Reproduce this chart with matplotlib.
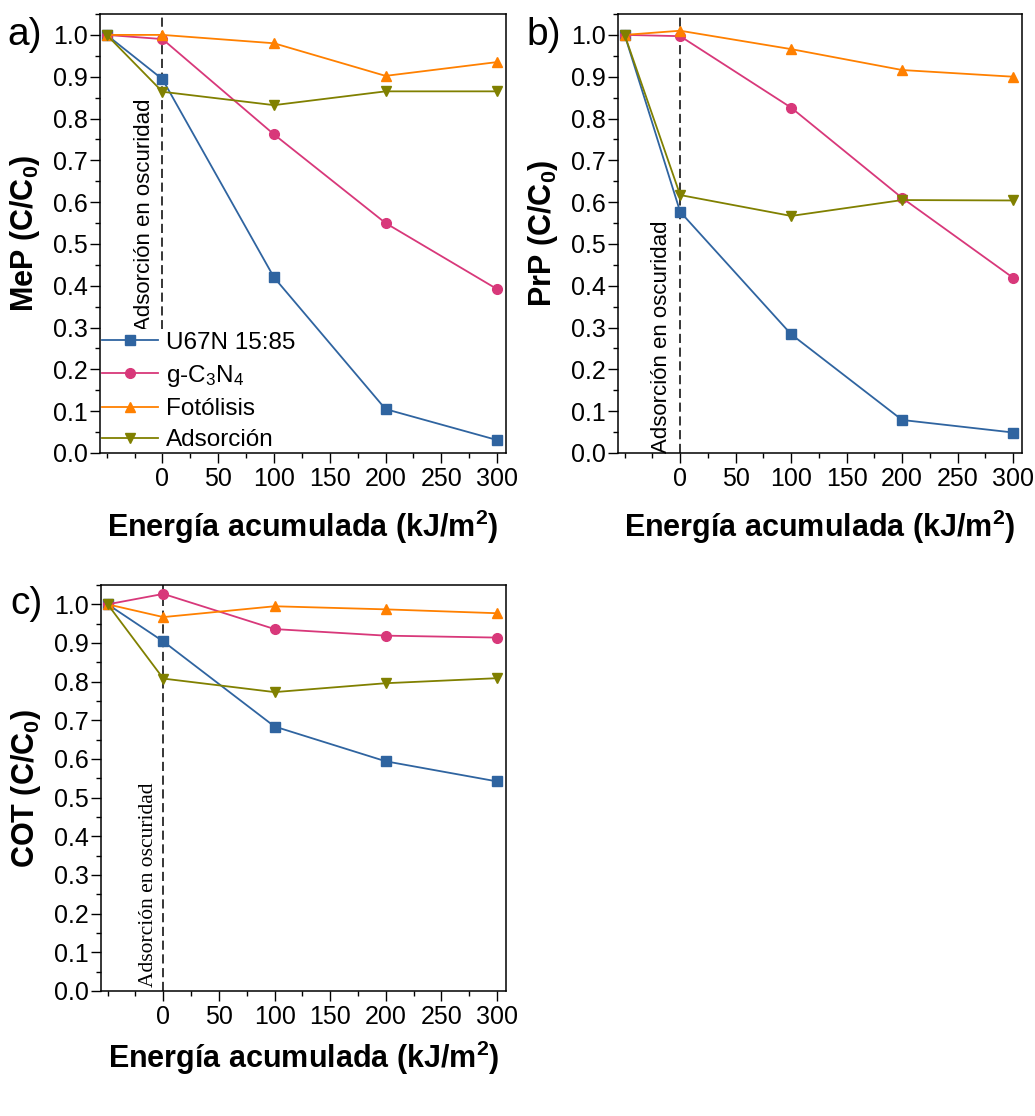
import matplotlib
matplotlib.use("Agg")
import matplotlib.pyplot as plt
from matplotlib.ticker import MultipleLocator, FixedLocator

plt.rcParams['font.family'] = ['Liberation Sans', 'DejaVu Sans']
plt.rcParams['mathtext.fontset'] = 'custom'
plt.rcParams['mathtext.rm'] = 'Liberation Sans'
plt.rcParams['mathtext.it'] = 'Liberation Sans:italic'
plt.rcParams['mathtext.bf'] = 'Liberation Sans:bold'

# energy axis (first point = start of dark adsorption)
energy = [-50, 0, 100, 200, 300]

series_names = ['U67N 15:85', 'g-C$_3$N$_4$', 'Fotólisis', 'Adsorción']
colors = ['#2f64a0', '#d8387a', '#ff8000', '#808000']
markers = ['s', 'o', '^', 'v']

# a) MeP
mep_u67n = [1.0, 0.894, 0.420, 0.105, 0.031]
mep_gcn = [1.0, 0.990, 0.762, 0.550, 0.392]
mep_foto = [1.0, 1.000, 0.980, 0.902, 0.935]
mep_ads = [1.0, 0.864, 0.832, 0.865, 0.865]

# b) PrP
prp_u67n = [1.0, 0.577, 0.284, 0.079, 0.049]
prp_gcn = [1.0, 0.997, 0.826, 0.610, 0.419]
prp_foto = [1.0, 1.010, 0.966, 0.916, 0.900]
prp_ads = [1.0, 0.617, 0.567, 0.605, 0.604]

# c) COT
cot_u67n = [1.0, 0.904, 0.684, 0.594, 0.542]
cot_gcn = [1.0, 1.027, 0.936, 0.919, 0.914]
cot_foto = [1.0, 0.967, 0.995, 0.987, 0.977]
cot_ads = [1.0, 0.808, 0.773, 0.796, 0.809]

panels = [
    ('a)', 'MeP (C/C$_\\mathbf{0}$)', [mep_u67n, mep_gcn, mep_foto, mep_ads]),
    ('b)', 'PrP (C/C$_\\mathbf{0}$)', [prp_u67n, prp_gcn, prp_foto, prp_ads]),
    ('c)', 'COT (C/C$_\\mathbf{0}$)', [cot_u67n, cot_gcn, cot_foto, cot_ads]),
]

fig = plt.figure(figsize=(10.35, 11.16), dpi=100)
W, H = 1035, 1116
boxes = [(100, 14, 506, 453), (618, 14, 1022, 453), (101, 585, 506, 991)]
text_y = [0.292, 0.0, 0.01]
xlabel_pad = [12, 12, 7]

for i, ((lab, ylab, data), (x0, y0, x1, y1)) in enumerate(zip(panels, boxes)):
    ax = fig.add_axes([x0 / W, 1 - y1 / H, (x1 - x0) / W, (y1 - y0) / H])
    for vals, name, c, m in zip(data, series_names, colors, markers):
        ax.plot(energy, vals, color=c, marker=m, markersize=7, lw=1.3, label=name)
    ax.axvline(0, color='black', ls=(0, (6, 3)), lw=1.1, zorder=1)
    ax.set_xlim(-56, 308)
    ax.set_ylim(0, 1.05)
    ax.xaxis.set_major_locator(FixedLocator([0, 50, 100, 150, 200, 250, 300]))
    ax.xaxis.set_minor_locator(FixedLocator([-50, -25, 25, 75, 125, 175, 225, 275]))
    ax.yaxis.set_major_locator(MultipleLocator(0.1))
    ax.yaxis.set_minor_locator(MultipleLocator(0.05))
    ax.yaxis.set_major_formatter(plt.FormatStrFormatter('%.1f'))
    ax.tick_params(which='major', direction='out', length=7, width=1.0, labelsize=18)
    ax.tick_params(axis='y', which='major', pad=1.5)
    ax.tick_params(axis='x', which='major', pad=3)
    ax.tick_params(which='minor', direction='out', length=3.5, width=1.0)
    for s in ax.spines.values():
        s.set_linewidth(1.1)
        s.set_zorder(6)
    ax.set_ylabel(ylab, fontsize=22, fontweight='bold', labelpad=8)
    ax.set_xlabel('Energía acumulada (kJ/m$^\\mathbf{2}$)', fontsize=22,
                  fontweight='bold', labelpad=xlabel_pad[i])
    ax.text(-0.185, 1.0, lab, transform=ax.get_yaxis_transform(),
            fontsize=28, ha='center', va='center')
    if i < 2:
        ax.text(-7, text_y[i], 'Adsorción en oscuridad', rotation=90,
                ha='right', va='bottom', fontsize=16)
    else:
        ax.text(-5, text_y[i], 'Adsorción en oscuridad', rotation=90,
                ha='right', va='bottom', fontsize=15.5, family='Liberation Serif')
    if i == 0:
        leg = ax.legend(loc='lower left', bbox_to_anchor=(0.0, -0.002),
                        fontsize=17.5, frameon=True, facecolor='white',
                        edgecolor='none', framealpha=1, fancybox=False,
                        borderpad=0.1, borderaxespad=0, handlelength=2.3,
                        handletextpad=0.3, labelspacing=0.38)

fig.savefig('out.png', dpi=100)
